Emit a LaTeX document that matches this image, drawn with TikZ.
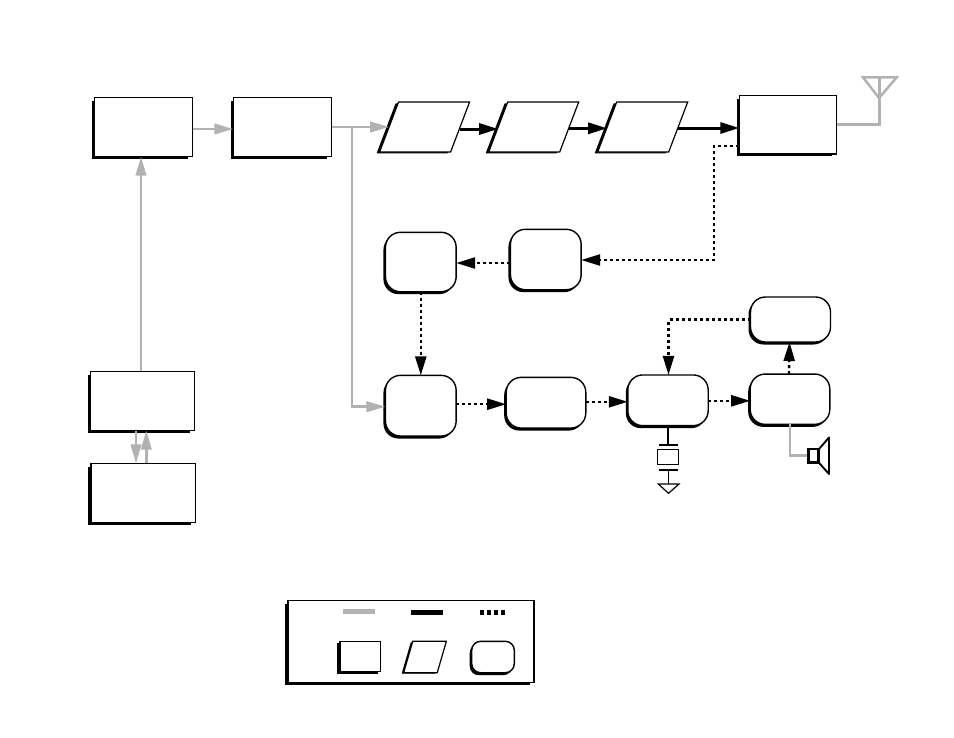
\documentclass[tikz,border=0pt]{standalone}
\usetikzlibrary{arrows.meta,shadows}
\definecolor{sig}{gray}{0.70}
\tikzset{
  base/.style={draw=black,fill=white,line width=1.4pt,inner sep=0pt,outer sep=0pt},
  rectblock/.style={base,minimum width=#1,general shadow={shadow xshift=-3.5pt,shadow yshift=-3pt,shadow scale=.98,fill=black}},
  roundblock/.style={base,rounded corners=15pt,minimum width=#1,general shadow={shadow xshift=-2pt,shadow yshift=-2.5pt,fill=black}},
  slantblock/.style={base,line width=1.2pt,xslant=#1,transform shape,minimum width=71pt,minimum height=50pt,general shadow={shadow xshift=-3pt,shadow yshift=-1.3pt,fill=black}},
  graytip/.style={-{Triangle[length=19pt,width=10.5pt]}},
  graywire/.style={draw=sig,line width=2.5pt},
  graylink/.style={graywire,graytip},
  blacklink/.style={draw=black,line width=3pt,-{Triangle[length=19pt,width=11pt]}},
  dotlink/.style={draw=black,line width=2.4pt,dash pattern=on 3pt off 3pt,-{Triangle[length=19pt,width=11pt,fill=black]}},
  thinpart/.style={draw=black,line width=1.2pt},
}
\begin{document}
\begin{tikzpicture}[x=1pt,y=-1pt]
\useasboundingbox (0,0) rectangle (954,737);

% Square-cornered blocks
\node[rectblock=98.4pt,minimum height=59.4pt] (src) at (143.5,127) {};
\node[rectblock=98.4pt,minimum height=59.4pt] (mod) at (282.5,127) {};
\node[rectblock=104pt,minimum height=59.4pt] (ctl) at (142.3,401) {};
\node[rectblock=104.4pt,minimum height=59.4pt] (mem) at (143,493) {};
\node[rectblock=97.4pt,minimum height=58.7pt] (duplexer) at (788,124.7) {};

% Slanted amplifier stages
\node[slantblock=.38] (ampa) at (424.6,127) {};
\node[slantblock=.38] (ampb) at (533.7,127) {};
\node[slantblock=.38] (ampc) at (642.7,127) {};

% Rounded receiver blocks
\node[roundblock=70.7pt,minimum height=59.4pt] (mix) at (420.8,262) {};
\node[roundblock=70.7pt,minimum height=60.4pt] (lna) at (545.8,259.5) {};
\node[roundblock=70.7pt,minimum height=60.7pt] (demod) at (420.8,405.7) {};
\node[roundblock=79.6pt,minimum height=50.7pt] (filt) at (546,402.7) {};
\node[roundblock=80.4pt,minimum height=50.7pt] (proc) at (668,400.3) {};
\node[roundblock=79.6pt,minimum height=50.3pt] (audio) at (790,399.2) {};
\node[roundblock=80pt,minimum height=45pt] (disp) at (790.5,319.5) {};

% Gray signal paths
\draw[graylink] ([yshift=-2pt]src.east) -- ([yshift=-2pt]mod.west);
\coordinate (tap) at (352,127);
\draw[graylink] (mod.east) -- (ampa.west);
\draw[graylink] (tap) |- ([yshift=-1pt]demod.west);
\draw[graylink] ([xshift=-1.3pt]ctl.north) -- ([xshift=-1.3pt]ctl.north |- src.south);
\draw[graylink] ([xshift=-6.3pt]ctl.south) -- ([xshift=-6.3pt]ctl.south |- mem.north);
\draw[graylink] ([xshift=4pt]ctl.south |- mem.north) -- ([xshift=4pt]ctl.south);

% Black transmit paths
\draw[blacklink] ([yshift=-2pt]ampa.east) -- ([yshift=-2pt]ampb.west);
\draw[blacklink] ([yshift=-1.3pt]ampb.east) -- ([yshift=-1.3pt]ampc.west);
\draw[blacklink] ([yshift=-1pt]ampc.east) -- ([yshift=-1pt]ampc.east -| duplexer.west);

% Dotted receive paths
\coordinate (rxout) at (739,146);
\coordinate (rxbend) at (714,146);
\draw[dotlink] (rxout) -- (rxbend) |- ([yshift=-.5pt]lna.east);
\draw[dotlink] ([yshift=-1pt]lna.west |- mix.east) -- ([yshift=-1pt]mix.east);
\draw[dotlink] (mix.south) -- (demod.north);
\draw[dotlink] ([yshift=-1.5pt]demod.east |- filt.west) -- ([yshift=-1.5pt]filt.west);
\draw[dotlink] ([yshift=-1.5pt]filt.east |- proc.west) -- ([yshift=-1.5pt]proc.west);
\draw[dotlink] ([yshift=-.5pt]proc.east) -- ([yshift=-.5pt]proc.east -| audio.west);
\draw[dotlink] ([xshift=-1pt]audio.north) -- ([xshift=-1pt]disp.south);
\draw[dotlink] (disp.west) -| ([xshift=.5pt]proc.north);

% Antenna
\coordinate (apex) at (879,98);
\draw[graywire,line width=3pt] (duplexer.east) -| (879,77.3);
\draw[graywire,line width=2.5pt,line join=miter] (863,77.3) -- (896.7,77.3) -- (apex) -- cycle;

% Crystal and ground
\coordinate (platea) at (668,445);
\coordinate (plateb) at (668.5,469.7);
\coordinate (gnd) at (668.5,484);
\draw[thinpart] (proc.south -| platea) -- (platea);
\draw[black,line width=2pt] (659,445) -- (678,445);
\draw[thinpart] (657.3,449.3) rectangle (678.7,464.3);
\draw[black,line width=2pt] (659,469.7) -- (678,469.7);
\draw[thinpart] (plateb) -- (gnd);
\draw[thinpart] (658.3,484) -- (679,484) -- (668.5,493.3) -- cycle;

% Loudspeaker
\coordinate (spk) at (808,455.7);
\draw[graywire] (audio.south) |- (spk);
\draw[black,line width=2.8pt] (808.5,449) rectangle (818.5,462.8);
\draw[black,line width=1.9pt,line join=round] (819,449) -- (829,437.5) -- (829,474) -- (819,462.8);

% Key
\node[base,minimum width=246.3pt,minimum height=81.6pt,general shadow={shadow xshift=-3.3pt,shadow yshift=-2.8pt,shadow scale=.993,fill=black}] (key) at (411,641.5) {};
\draw[draw=sig,line width=5pt] (343,611.3) -- (375,611.3);
\draw[draw=black,line width=5pt] (411,612.3) -- (443,612.3);
\draw[draw=black,line width=5pt,dash pattern=on 3.6pt off 3.4pt] (480,612.3) -- (505,612.3);
\node[base,minimum width=40.7pt,minimum height=30.4pt,general shadow={shadow xshift=-2.5pt,shadow yshift=-2pt,fill=black}] (keyrect) at (360.3,656.5) {};
\node[base,line width=1.2pt,xslant=.29,transform shape,minimum width=33.6pt,minimum height=31.4pt,general shadow={shadow xshift=-2pt,shadow yshift=-1pt,fill=black}] (keyslant) at (425,657) {};
\node[roundblock=42.6pt,minimum height=31.4pt,rounded corners=9pt,general shadow={shadow xshift=-1pt,shadow yshift=-1.5pt,fill=black}] (keyround) at (493,657) {};
\end{tikzpicture}
\end{document}
